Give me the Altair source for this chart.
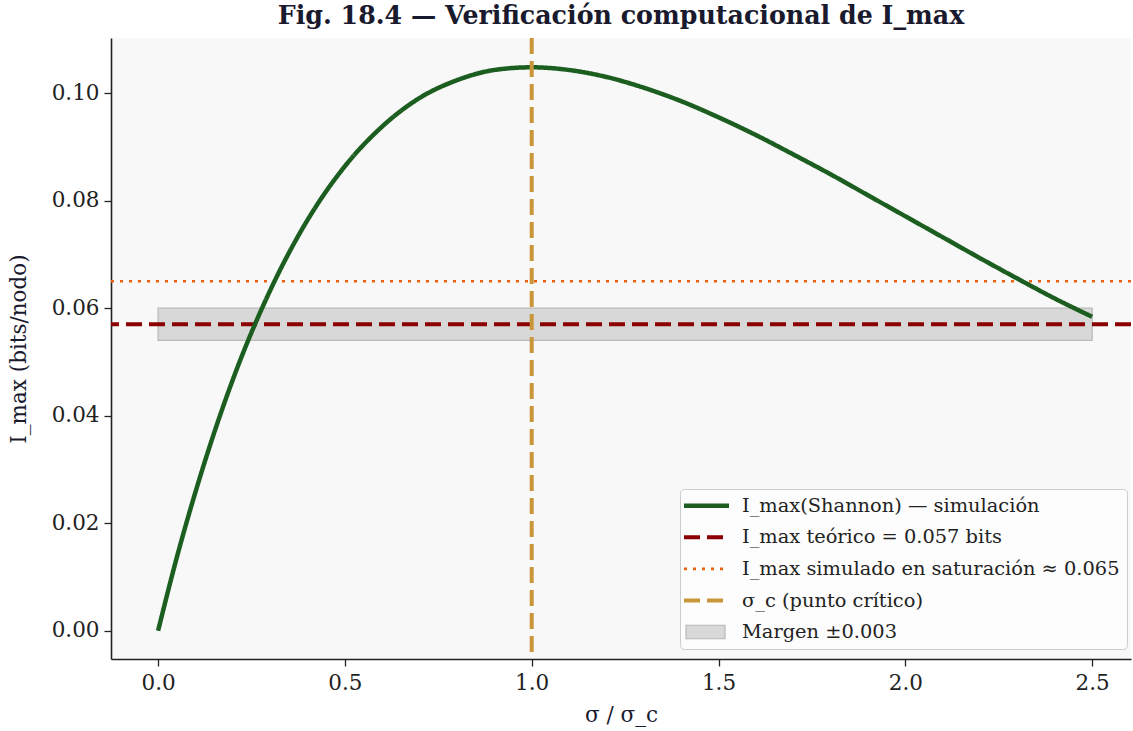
import altair as alt
import pandas as pd

# ---------------- data ----------------
sigma = [0.0, 0.05, 0.1, 0.15, 0.2, 0.3, 0.4, 0.5, 0.6, 0.7, 0.8, 0.9, 1.0,
         1.1, 1.2, 1.3, 1.4, 1.5, 1.6, 1.7, 1.8, 1.9, 2.0, 2.1, 2.2, 2.3, 2.4, 2.5]
imax = [0.0, 0.0136, 0.0258, 0.0368, 0.0467, 0.0633, 0.0764, 0.0864, 0.0938,
        0.0991, 0.1024, 0.1043, 0.1048, 0.1043, 0.1030, 0.1010, 0.0985, 0.0955,
        0.0922, 0.0886, 0.0849, 0.0810, 0.0771, 0.0732, 0.0693, 0.0655, 0.0618, 0.0584]

i_teorico = 0.057
i_saturacion = 0.065
sigma_c = 1.0
margen_lo, margen_hi = 0.054, 0.060
margen_x = [0.0, 2.5]

labels = ["I_max(Shannon) — simulación",
          "I_max teórico = 0.057 bits",
          "I_max simulado en saturación ≈ 0.065",
          "σ_c (punto crítico)",
          "Margen ±0.003"]
colors = ["#1b5e20", "#8b0000", "#e8620f", "#c9973a", "rgba(0,0,0,0)"]
dashes = [[1, 0], [16, 7], [3, 6], [16, 7], [1, 0]]
widths = [4.5, 4, 2.6, 4, 1]
band_fill = "#d8d8d8"
band_edge = "#b8b8b8"

x_ticks = [0.0, 0.5, 1.0, 1.5, 2.0, 2.5]
y_ticks = [0.0, 0.02, 0.04, 0.06, 0.08, 0.10]

X_DOM = [-0.126, 2.604]
Y_DOM = [-0.00525, 0.11025]

FONT = "DejaVu Serif"
NAVY = "#1a1a2e"

legend = alt.Legend(
    title=None, orient="none", legendX=569, legendY=451, zindex=0,
    labelFont=FONT, labelFontSize=19.4, labelColor="#222222", labelLimit=0,
    labelOffset=25.8, rowPadding=10.6, padding=7,
    symbolSize=4, symbolType="M-22.5,0H22.5", symbolOffset=9.8, symbolOpacity=1,
    fillColor="rgba(255,255,255,0.75)", strokeColor="#cccccc", cornerRadius=4,
)
# swatch for the shaded margin, placed on the last legend row
legend_band = alt.Legend(
    title=None, orient="none", legendX=592.5, legendY=592, zindex=1,
    labelFontSize=1, labelExpr="''", padding=0,
    symbolSize=4, symbolType="M-19.5,-6.75H19.5V6.75H-19.5Z", symbolOffset=0,
    symbolOpacity=1, symbolStrokeColor=band_edge, symbolStrokeWidth=1.2,
)

color = alt.Color("serie:N", scale=alt.Scale(domain=labels, range=colors), legend=legend)
dash = alt.StrokeDash("serie:N", scale=alt.Scale(domain=labels, range=dashes), legend=legend)
sw = alt.StrokeWidth("serie:N", scale=alt.Scale(type="ordinal", domain=labels, range=widths),
                     legend=legend)

xs = alt.Scale(domain=X_DOM, nice=False, zero=False)
ys = alt.Scale(domain=Y_DOM, nice=False, zero=False)

x_axis = alt.Axis(values=x_ticks, format=".1f", title="σ / σ_c", labelPadding=6, titlePadding=11)
y_axis = alt.Axis(values=y_ticks, format=".2f", title="I_max (bits/nodo)", labelPadding=5, titlePadding=21)

curve_df = pd.DataFrame({"sigma": sigma, "imax": imax, "serie": labels[0]})
band_df = pd.DataFrame({"x0": [margen_x[0]], "x1": [margen_x[1]],
                        "lo": [margen_lo], "hi": [margen_hi], "m": [labels[4]]})
teo_df = pd.DataFrame({"y": [i_teorico], "serie": [labels[1]]})
sat_df = pd.DataFrame({"y": [i_saturacion], "serie": [labels[2]]})
crit_df = pd.DataFrame({"x": [sigma_c], "serie": [labels[3]]})

band = alt.Chart(band_df).mark_rect(stroke=band_edge, strokeWidth=1.2, opacity=1).encode(
    x=alt.X("x0:Q", scale=xs, axis=x_axis), x2="x1:Q",
    y=alt.Y("lo:Q", scale=ys, axis=y_axis), y2="hi:Q",
    fill=alt.Fill("m:N", scale=alt.Scale(domain=[labels[4]], range=[band_fill]),
                  legend=legend_band),
)
teo = alt.Chart(teo_df).mark_rule().encode(
    y=alt.Y("y:Q", scale=ys), color=color, strokeDash=dash, strokeWidth=sw)
sat = alt.Chart(sat_df).mark_rule().encode(
    y=alt.Y("y:Q", scale=ys), color=color, strokeDash=dash, strokeWidth=sw)
line = alt.Chart(curve_df).mark_line(interpolate="monotone").encode(
    x=alt.X("sigma:Q", scale=xs), y=alt.Y("imax:Q", scale=ys),
    color=color, strokeDash=dash, strokeWidth=sw)
crit = alt.Chart(crit_df).mark_rule().encode(
    x=alt.X("x:Q", scale=xs), color=color, strokeDash=dash, strokeWidth=sw)

chart = alt.layer(band, teo, sat, line, crit).properties(
    width=1020, height=621,
    title=alt.Title("Fig. 18.4 — Verificación computacional de I_max",
                    font=FONT, fontSize=25.3, fontWeight="bold", color=NAVY,
                    anchor="middle", offset=7),
    autosize=alt.AutoSizeParams(type="none"),
    padding={"left": 111, "top": 38, "right": 2, "bottom": 72},
    background="white",
).configure_view(
    fill="#f8f8f8", stroke=None,
).configure_axis(
    grid=False, domainColor="#222222", domainWidth=1.6,
    tickColor="#222222", tickSize=7, tickWidth=1.3,
    labelFont=FONT, labelFontSize=21.5, labelColor="#222222",
    titleFont=FONT, titleFontSize=21.5, titleFontWeight="normal", titleColor=NAVY,
)

chart.save("out.html", embed_options={"renderer": "svg", "actions": False})
